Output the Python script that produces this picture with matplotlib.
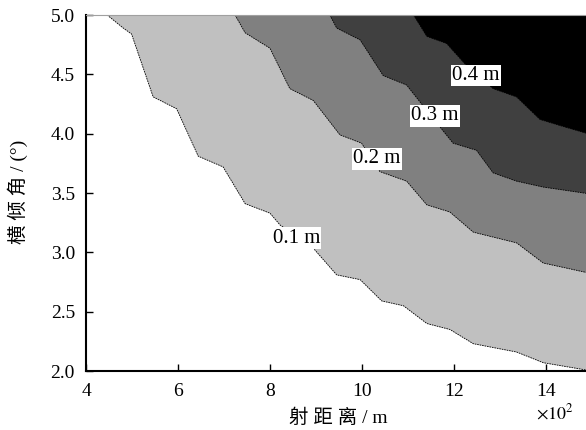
import numpy as np
import matplotlib
matplotlib.use("Agg")
import matplotlib.pyplot as plt

plt.rcParams["font.family"] = ["Liberation Serif", "Noto Sans CJK SC"]
plt.rcParams["mathtext.fontset"] = "stix"

# ==========================================
# Contour boundaries
# ==========================================

b01_x = [4.46, 4.81, 4.99, 5.46, 5.97, 6.44, 6.98, 7.46, 8.00, 8.22, 8.93,
         9.45, 9.96, 10.43, 10.90, 11.41, 11.91, 12.42, 13.36, 13.94, 15.0]
b01_y = [5.00, 4.89, 4.84, 4.31, 4.21, 3.81, 3.72, 3.41, 3.33, 3.23, 3.04,
         2.81, 2.77, 2.59, 2.55, 2.40, 2.35, 2.23, 2.16, 2.07, 2.00]

b02_x = [7.24, 7.46, 8.00, 8.43, 8.94, 9.52, 9.99, 10.39, 10.97, 11.41,
         11.91, 12.42, 13.36, 13.94, 15.0]
b02_y = [5.00, 4.85, 4.72, 4.38, 4.28, 3.99, 3.92, 3.68, 3.60, 3.40,
         3.34, 3.17, 3.08, 2.91, 2.82]

b03_x = [9.30, 9.45, 9.96, 10.46, 10.97, 11.48, 11.98, 12.49, 12.85, 13.36,
         13.94, 15.0]
b03_y = [5.00, 4.89, 4.79, 4.49, 4.41, 4.16, 3.92, 3.86, 3.67, 3.60,
         3.55, 3.49]

b04_x = [11.12, 11.41, 11.84, 12.35, 12.85, 13.36, 13.87, 14.38, 15.0]
b04_y = [5.00, 4.82, 4.76, 4.54, 4.38, 4.31, 4.12, 4.06, 3.99]

levels = ["0.1 m", "0.2 m", "0.3 m", "0.4 m"]
label_x = [8.57, 10.33, 11.59, 12.48]
label_y = [3.12, 3.79, 4.15, 4.49]

colors = ["#c0c0c0", "#808080", "#404040", "#000000"]

# ==========================================
# Plot
# ==========================================

fig = plt.figure(figsize=(5.86, 4.30), dpi=100)
ax = fig.add_axes([86 / 586, 1 - 371 / 430, 506 / 586, 356 / 430])

boundaries = [(b01_x, b01_y), (b02_x, b02_y), (b03_x, b03_y), (b04_x, b04_y)]

for (bx, by), c in zip(boundaries, colors):
    px = list(bx) + [15.0, 15.0]
    py = list(by) + [5.0, 5.0]
    ax.fill(px, py, color=c, lw=0, zorder=1)
    ax.plot(bx, by, color="black", lw=0.6, ls=(0, (2, 1)), zorder=2)

for t, lx, ly in zip(levels, label_x, label_y):
    ax.text(lx, ly, t, fontsize=15, ha="center", va="center", zorder=3,
            bbox=dict(facecolor="white", edgecolor="none", pad=1.0))

ax.set_xlim(4, 15)
ax.set_ylim(2.0, 5.0)
ax.set_xticks([4, 6, 8, 10, 12, 14])
ax.set_yticks(np.arange(2.0, 5.01, 0.5))
ax.set_yticklabels([f"{v:.1f}" for v in np.arange(2.0, 5.01, 0.5)])

ax.tick_params(direction="in", length=5, width=1, labelsize=14)
ax.tick_params(axis="x", pad=9)
ax.tick_params(axis="y", pad=8)

ax.spines["left"].set_linewidth(1.5)
ax.spines["bottom"].set_linewidth(1.5)
ax.spines["top"].set_linewidth(0.8)
ax.spines["top"].set_color("#a0a0a0")
ax.spines["right"].set_visible(False)

ax.set_xlabel("射 距 离 / m", fontsize=14)
ax.set_ylabel("横 倾 角 / (°)", fontsize=14)
ax.xaxis.set_label_coords((338 - 86) / 506, -38 / 356)
ax.yaxis.set_label_coords(-58 / 506, (371 - 192) / 356)

fig.text(555 / 586, 1 - 413 / 430, r"$\times 10^2$", fontsize=13,
         ha="center", va="center")

fig.savefig("out.png", dpi=100)
